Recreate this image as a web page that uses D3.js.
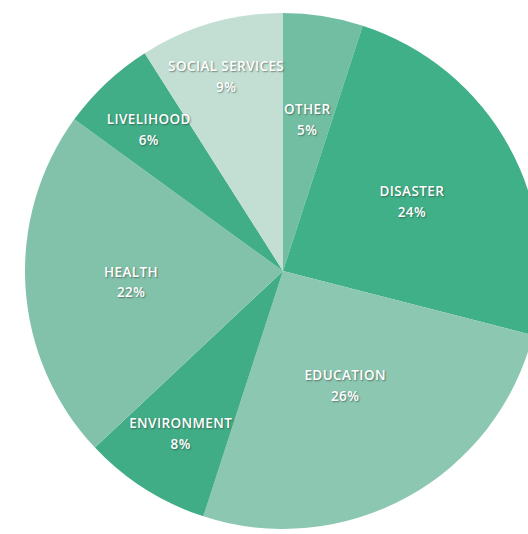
<!DOCTYPE html>
<html>
<head>
<meta charset="utf-8">
<script src="https://cdn.jsdelivr.net/npm/d3@7"></script>
<style>
  html, body { margin: 0; padding: 0; background: #ffffff; }
  svg { display: block; }
  .slice-label {
    font-family: "Open Sans", "DejaVu Sans", sans-serif;
    font-weight: 600;
    font-size: 13.5px;
    letter-spacing: 0.4px;
    fill: #ffffff;
    text-shadow: 1px 1px 1.5px rgba(40, 60, 50, 0.55);
  }
</style>
</head>
<body>
<svg id="chart" width="528" height="534"></svg>
<script>
// Share of projects by sector, clockwise from 12 o'clock
const categories = ["OTHER", "DISASTER", "EDUCATION", "ENVIRONMENT", "HEALTH", "LIVELIHOOD", "SOCIAL SERVICES"];
const shares = [5, 24, 26, 8, 22, 6, 9];
const percentLabels = ["5%", "24%", "26%", "8%", "22%", "6%", "9%"];
const sliceColors = ["#72bea2", "#3fb088", "#8cc7b1", "#41ad87", "#83c2aa", "#42ae88", "#c3dfd4"];

// Distance of each label from the centre, as a fraction of the radius
const labelRadiusFrac = [0.60, 0.57, 0.50, 0.74, 0.59, 0.76, 0.79];

const width = 528, height = 534;
const cx = 283, cy = 271, radius = 258;

const data = categories.map((c, i) => ({ name: c, value: shares[i], pct: percentLabels[i], color: sliceColors[i], lf: labelRadiusFrac[i] }));

const svg = d3.select("#chart");
const g = svg.append("g").attr("transform", `translate(${cx},${cy})`);

const pie = d3.pie().value(d => d.value).sort(null);
const arc = d3.arc().innerRadius(0).outerRadius(radius);
const arcs = pie(data);

g.selectAll("path.slice")
  .data(arcs)
  .join("path")
  .attr("class", "slice")
  .attr("d", arc)
  .attr("fill", d => d.data.color);

const labels = g.selectAll("text.slice-label")
  .data(arcs)
  .join("text")
  .attr("class", "slice-label")
  .attr("text-anchor", "middle")
  .attr("transform", d => {
    const a = (d.startAngle + d.endAngle) / 2;
    const r = radius * d.data.lf;
    return `translate(${Math.sin(a) * r},${-Math.cos(a) * r})`;
  });

labels.append("tspan")
  .attr("x", 0)
  .attr("dy", "-0.3em")
  .text(d => d.data.name);

labels.append("tspan")
  .attr("x", 0)
  .attr("dy", "1.55em")
  .text(d => d.data.pct);
</script>
</body>
</html>
